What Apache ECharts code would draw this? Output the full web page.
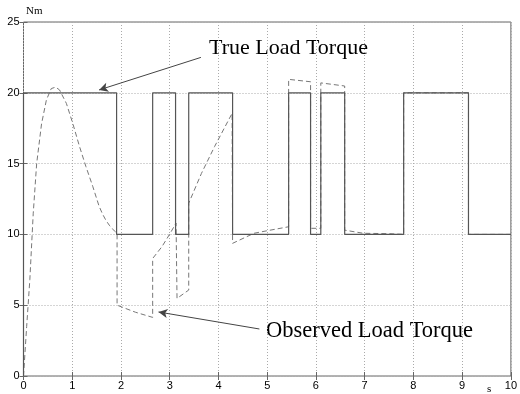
<!DOCTYPE html>
<html><head><meta charset="utf-8">
<script src="https://cdn.jsdelivr.net/npm/echarts@6/dist/echarts.min.js"></script>
<style>html,body{margin:0;padding:0;background:#fff}#c{width:520px;height:394px}</style>
</head><body><div id="c"></div>
<script>
// True load torque (step profile)
const trueT = [0, 0, 1.91, 1.91, 2.65, 2.65, 3.12, 3.12, 3.39, 3.39, 4.29, 4.29, 5.44, 5.44, 5.89, 5.89, 6.1, 6.1, 6.59, 6.59, 7.8, 7.8, 9.13, 9.13, 10];
const trueV = [0, 20, 20, 10, 10, 20, 20, 10, 10, 20, 20, 10, 10, 20, 20, 10, 10, 20, 20, 10, 10, 20, 20, 10, 10];
// Observed load torque
const obsT = [0, 0.065, 0.13, 0.2, 0.27, 0.37, 0.47, 0.57, 0.66, 0.74, 0.88, 1.01, 1.15, 1.28, 1.42, 1.55, 1.62, 1.69, 1.76, 1.82, 1.92, 1.92, 2.3, 2.65, 2.65, 2.84, 3.01, 3.13, 3.15, 3.39, 3.39, 3.65, 3.92, 4.28, 4.29, 4.73, 5.0, 5.44, 5.44, 5.89, 5.89, 6.1, 6.1, 6.59, 6.59, 6.63, 6.97, 7.51, 7.8, 7.8, 9.13, 9.13, 10];
const obsV = [0, 3.5, 6.8, 11.5, 15.0, 17.8, 19.5, 20.3, 20.4, 20.2, 19.25, 17.85, 16.2, 14.8, 13.4, 12.0, 11.45, 11.0, 10.65, 10.4, 10.08, 5.0, 4.5, 4.14, 8.3, 9.13, 10.08, 10.8, 5.48, 6.07, 12.2, 14.3, 16.2, 18.55, 9.37, 10.08, 10.26, 10.54, 20.95, 20.78, 10.43, 10.43, 20.7, 20.48, 10.3, 10.19, 10.08, 10.05, 10, 20, 20, 10, 10];
const xTicks = [0,1,2,3,4,5,6,7,8,9,10];
const yTicks = [0,5,10,15,20,25];
const labelTrue = 'True Load Torque';
const labelObs = 'Observed Load Torque';
const arrowTrue = [[3.64, 22.5], [1.55, 20.2]];
const arrowObs = [[4.84, 3.32], [2.77, 4.52]];

const zip = (a, b) => a.map((v, i) => [v, b[i]]);
const chart = echarts.init(document.getElementById('c'));
const tickFont = {fontFamily: 'Liberation Sans, Arial, sans-serif', fontSize: 11, color: '#000'};
const split = {show: true, lineStyle: {color: '#aaa', type: [1, 2], width: 1}};
chart.setOption({
  animation: false,
  grid: {left: 23.5, right: 4, top: 22, bottom: 18, show: true, borderColor: '#666', borderWidth: 1, backgroundColor: 'transparent'},
  xAxis: [{
    type: 'value', min: 0, max: 10, interval: 1,
    axisLine: {show: false}, axisTick: {show: true, inside: true, length: 4, lineStyle: {color: '#666'}},
    axisLabel: Object.assign({margin: 4, formatter: v => xTicks.includes(v) ? String(v) : ''}, tickFont),
    splitLine: split
  }, {
    type: 'value', min: 0, max: 10, interval: 1, position: 'top',
    axisLine: {show: false}, axisTick: {show: true, inside: true, length: 4, lineStyle: {color: '#666'}},
    axisLabel: {show: false}, splitLine: {show: false}
  }],
  yAxis: [{
    type: 'value', min: 0, max: 25, interval: 5,
    axisLine: {show: false}, axisTick: {show: true, inside: true, length: 4, lineStyle: {color: '#666'}},
    axisLabel: Object.assign({margin: 4, formatter: v => yTicks.includes(v) ? String(v) : ''}, tickFont),
    splitLine: split
  }, {
    type: 'value', min: 0, max: 25, interval: 5, position: 'right',
    axisLine: {show: false}, axisTick: {show: true, inside: true, length: 4, lineStyle: {color: '#666'}},
    axisLabel: {show: false}, splitLine: {show: false}
  }],
  series: [{
    type: 'line', data: zip(trueT, trueV), showSymbol: false, symbol: 'none',
    lineStyle: {color: '#555', width: 1.2}, z: 3,
    markLine: {
      silent: true, symbol: ['none', 'arrow'], symbolSize: [7, 9],
      lineStyle: {color: '#444', width: 1, type: 'solid'}, label: {show: false},
      data: [
        [{coord: arrowTrue[0]}, {coord: arrowTrue[1]}],
        [{coord: arrowObs[0]}, {coord: arrowObs[1]}]
      ]
    }
  }, {
    type: 'line', data: zip(obsT, obsV), showSymbol: false, symbol: 'none',
    lineStyle: {color: '#777', width: 1, type: [5, 3]}, z: 2
  }],
  graphic: [
    {type: 'text', left: 209, top: 37, style: {text: labelTrue, font: '22px "Liberation Serif", "Times New Roman", serif', fill: '#000'}},
    {type: 'text', left: 266, top: 320, style: {text: labelObs, font: '22.5px "Liberation Serif", "Times New Roman", serif', fill: '#000'}},
    {type: 'text', left: 26, top: 6, style: {text: 'Nm', font: '11px "Liberation Serif", "Times New Roman", serif', fill: '#000'}},
    {type: 'text', left: 487, top: 384, style: {text: 's', font: '11px "Liberation Serif", "Times New Roman", serif', fill: '#000'}}
  ]
});
</script></body></html>
